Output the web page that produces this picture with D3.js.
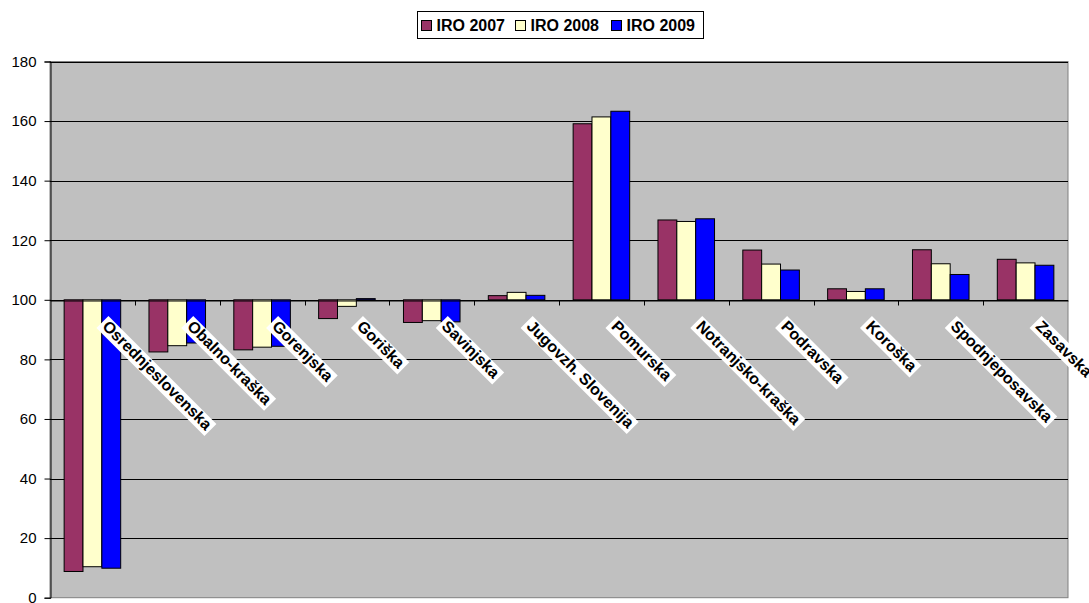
<!DOCTYPE html>
<html>
<head>
<meta charset="utf-8">
<script src="https://cdn.jsdelivr.net/npm/d3@7"></script>
<style>
  html, body { margin: 0; padding: 0; background: #ffffff; }
  svg { display: block; font-family: "Liberation Sans", Arial, sans-serif; }
</style>
</head>
<body>
<svg id="chart" width="1089" height="603"></svg>
<script>
const categories = ["Osrednjeslovenska", "Obalno-kraška", "Gorenjska", "Goriška", "Savinjska",
  "Jugovzh. Slovenija", "Pomurska", "Notranjsko-kraška", "Podravska", "Koroška",
  "Spodnjeposavska", "Zasavska"];
const seriesNames = ["IRO 2007", "IRO 2008", "IRO 2009"];
const iro2007 = [8.8, 82.5, 83.2, 93.7, 92.4, 101.4, 159.1, 126.8, 116.7, 103.7, 116.8, 113.6];
const iro2008 = [10.4, 84.6, 84.1, 97.8, 93.0, 102.5, 161.4, 126.3, 112.0, 102.8, 112.1, 112.4];
const iro2009 = [9.9, 85.5, 84.4, 100.4, 92.6, 101.5, 163.3, 127.2, 110.0, 103.7, 108.5, 111.6];
const yTicks = [0, 20, 40, 60, 80, 100, 120, 140, 160, 180];
const colors = ["#993366", "#FFFFCC", "#0000FF"];

const seriesValues = [iro2007, iro2008, iro2009];
const svg = d3.select("#chart");

const plot = { left: 50, right: 1068, top: 61.5, bottom: 597.7 };
const baseValue = 100;

const x0 = d3.scaleBand().domain(categories).range([plot.left, plot.right]).paddingInner(0).paddingOuter(0);
const x1 = d3.scaleBand().domain(seriesNames).range([0, x0.bandwidth()]).paddingInner(0).paddingOuter(0.75);
const y = d3.scaleLinear().domain([0, 180]).range([plot.bottom, plot.top]);

// plot area
svg.append("rect")
  .attr("x", plot.left).attr("y", plot.top)
  .attr("width", plot.right - plot.left).attr("height", plot.bottom - plot.top)
  .attr("fill", "#C0C0C0").attr("stroke", "#808080").attr("stroke-width", 1);

// gridlines
svg.append("g").selectAll("line").data(yTicks.filter(t => t > 0)).join("line")
  .attr("x1", plot.left).attr("x2", plot.right)
  .attr("y1", d => Math.round(y(d)) + 0.5).attr("y2", d => Math.round(y(d)) + 0.5)
  .attr("stroke", "#000").attr("stroke-width", 1);

// y axis
const yAxis = d3.axisLeft(y).tickValues(yTicks).tickSize(6).tickPadding(8).tickFormat(d3.format("d"));
const yg = svg.append("g").attr("transform", `translate(${plot.left + 0.5},0)`).call(yAxis);
yg.select(".domain").attr("stroke", "#000");
yg.selectAll(".tick line").attr("stroke", "#000");
yg.selectAll("text").attr("font-size", 15).attr("fill", "#000")
  .attr("font-family", "'Liberation Sans', Arial, sans-serif");

// bars
const groups = svg.append("g").selectAll("g").data(categories).join("g")
  .attr("transform", d => `translate(${x0(d)},0)`);
groups.selectAll("rect").data((c, i) => seriesNames.map((s, j) => ({ s, j, v: seriesValues[j][i] })))
  .join("rect")
  .attr("x", d => x1(d.s))
  .attr("width", x1.bandwidth())
  .attr("y", d => y(Math.max(d.v, baseValue)))
  .attr("height", d => Math.abs(y(d.v) - y(baseValue)))
  .attr("fill", d => colors[d.j])
  .attr("stroke", "#000").attr("stroke-width", 1);

// category axis at 100
const xAxis = d3.axisBottom(x0).tickSize(0).tickFormat("");
const xg = svg.append("g").attr("transform", `translate(0,${Math.round(y(baseValue)) + 0.5})`).call(xAxis);
xg.select(".domain").attr("stroke", "#000");
const boundaries = d3.range(1, categories.length).map(i => x0(categories[i]));
xg.selectAll(".bound").data(boundaries).join("line")
  .attr("class", "bound")
  .attr("x1", d => Math.round(d) + 0.5).attr("x2", d => Math.round(d) + 0.5)
  .attr("y1", 0).attr("y2", 5).attr("stroke", "#000");

// category labels rotated with white boxes
const labelY = Math.round(y(baseValue)) + 28;
const lab = svg.append("g").selectAll("g").data(categories).join("g")
  .attr("transform", d => `translate(${x0(d) + x0.bandwidth() / 2 + 4},${labelY}) rotate(45)`);
const bg = lab.append("rect").attr("fill", "#fff");
const txt = lab.append("text")
  .attr("x", 3).attr("y", -4.2)
  .attr("font-size", 16).attr("font-weight", "bold").attr("fill", "#000")
  .text(d => d);
txt.each(function () {
  const w = this.getComputedTextLength();
  d3.select(this.parentNode).select("rect")
    .attr("x", 0).attr("y", -17).attr("width", w + 6).attr("height", 17);
});

// legend
const legend = svg.append("g");
legend.append("rect").attr("x", 417.5).attr("y", 11.5).attr("width", 286).attr("height", 27)
  .attr("fill", "#fff").attr("stroke", "#000").attr("stroke-width", 1);
const legX = [421.5, 515.5, 611.5];
seriesNames.forEach((s, j) => {
  legend.append("rect").attr("x", legX[j]).attr("y", 20.5).attr("width", 10).attr("height", 10)
    .attr("fill", colors[j]).attr("stroke", "#000").attr("stroke-width", 1);
  legend.append("text").attr("x", legX[j] + 15).attr("y", 31)
    .attr("font-size", 16).attr("font-weight", "bold").attr("fill", "#000").text(s);
});
</script>
</body>
</html>
